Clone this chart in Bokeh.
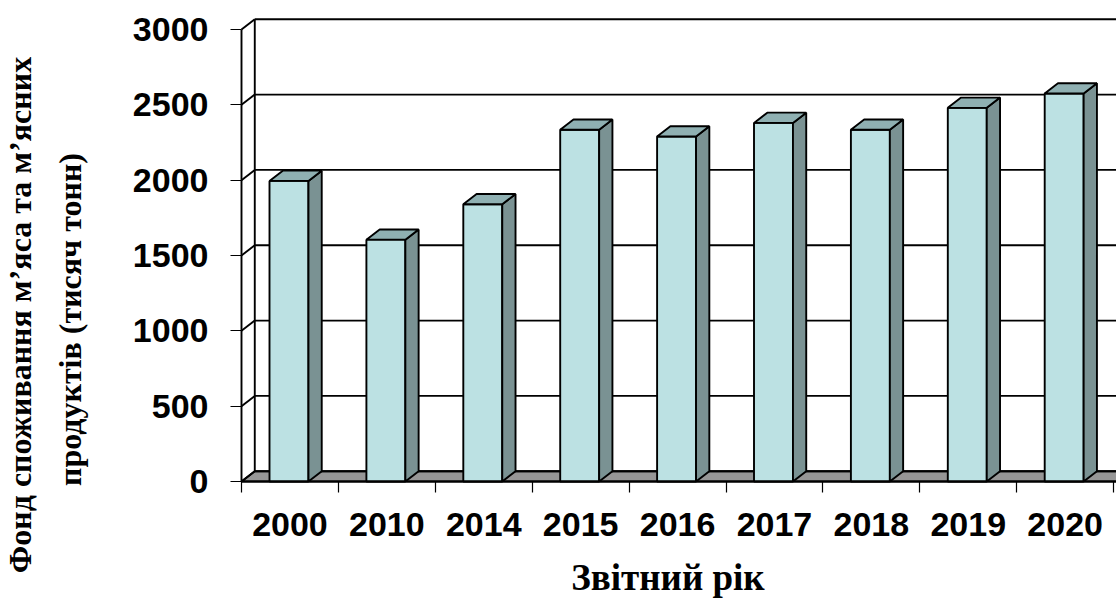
import numpy as np
from bokeh.plotting import figure
from bokeh.models import Range1d, FixedTicker, Label
from bokeh.embed import file_html
from bokeh.resources import INLINE

# ---- data -------------------------------------------------------------
years = ["2000", "2010", "2014", "2015", "2016", "2017", "2018", "2019", "2020"]
values = [1995, 1605, 1840, 2335, 2290, 2380, 2335, 2480, 2575]
y_ticks = [0, 500, 1000, 1500, 2000, 2500, 3000]
y_title_lines = ["Фонд споживання м’яса та м’ясних", "продуктів (тисяч тонн)"]
x_title = "Звітний рік"

# ---- style ------------------------------------------------------------
W, H = 1116, 600
PX_X = 96.9         # pixels per category
PX_Y = 0.15067      # pixels per value unit
ORIGIN = (241, 481)  # pixel position of (0, 0), from the top-left corner
DX = 0.137          # depth of the 3-D box along x (category units)
DY = 68             # depth of the 3-D box along y (value units)
BAR_L, BAR_R = 0.289, 0.691
FRONT = "#bce1e3"
SIDE = "#7a9293"
TOP = "#8fb0b2"
FLOOR = "#969696"
LW = 1.9
SANS = "Liberation Sans"
SERIF = "Liberation Serif"

x0 = -ORIGIN[0] / PX_X
x1 = (W - ORIGIN[0]) / PX_X
y0 = -(H - ORIGIN[1]) / PX_Y
y1 = ORIGIN[1] / PX_Y

# the plotting frame covers the whole canvas; axes sit at fixed locations
p = figure(width=W, height=H,
           x_range=Range1d(x0, x1), y_range=Range1d(y0, y1),
           min_border=0, output_backend="svg", toolbar_location=None)
p.outline_line_color = None
p.xgrid.visible = False
p.ygrid.visible = False
p.background_fill_color = "white"
p.border_fill_color = "white"

X_END = x1
top_tick = y_ticks[-1]

# floor of the box
p.patch([0, X_END, X_END + DX, DX], [0, 0, DY, DY],
        fill_color=FLOOR, line_color="black", line_width=LW)

# back-wall gridlines, side-wall diagonals and back-wall edge
grid_y = [v + DY for v in y_ticks]
p.segment(x0=[DX] * len(y_ticks), y0=grid_y,
          x1=[X_END + DX] * len(y_ticks), y1=grid_y,
          line_color="black", line_width=LW)
p.segment(x0=[0] * len(y_ticks), y0=y_ticks,
          x1=[DX] * len(y_ticks), y1=grid_y,
          line_color="black", line_width=LW)
p.segment(x0=[DX], y0=[DY], x1=[DX], y1=[top_tick + DY],
          line_color="black", line_width=LW)

# bars: front face, side face, top face
idx = np.arange(len(years))
p.quad(left=idx + BAR_L, right=idx + BAR_R, bottom=0, top=values,
       fill_color=FRONT, line_color="black", line_width=LW)
side_xs = [[i + BAR_R, i + BAR_R + DX, i + BAR_R + DX, i + BAR_R] for i in idx]
side_ys = [[0, DY, v + DY, v] for v in values]
p.patches(side_xs, side_ys, fill_color=SIDE, line_color="black", line_width=LW)
top_xs = [[i + BAR_L, i + BAR_R, i + BAR_R + DX, i + BAR_L + DX] for i in idx]
top_ys = [[v, v, v + DY, v + DY] for v in values]
p.patches(top_xs, top_ys, fill_color=TOP, line_color="black", line_width=LW)

# x axis: labels at category centres, tick marks at category borders
xa = p.xaxis[0]
xa.fixed_location = 0
xa.ticker = FixedTicker(ticks=[i + 0.5 for i in idx],
                        minor_ticks=list(range(len(years) + 1)))
xa.major_label_overrides = {float(i + 0.5): y for i, y in zip(idx, years)}
xa.bounds = (0, X_END)
xa.axis_line_width = LW
xa.axis_line_color = "black"
xa.major_tick_out = 0
xa.major_tick_in = 0
xa.minor_tick_out = 11
xa.minor_tick_in = 0
xa.minor_tick_line_color = "black"
xa.minor_tick_line_width = 1.2
xa.major_label_standoff = 20
xa.major_label_text_font = SANS
xa.major_label_text_font_style = "bold"
xa.major_label_text_font_size = "34px"
xa.major_label_text_color = "black"

# y axis on the front edge of the box
ya = p.yaxis[0]
ya.fixed_location = 0
ya.ticker = FixedTicker(ticks=y_ticks)
ya.bounds = (0, top_tick)
ya.axis_line_width = LW
ya.axis_line_color = "black"
ya.major_tick_out = 11
ya.major_tick_in = 0
ya.major_tick_line_width = 1.2
ya.major_tick_line_color = "black"
ya.minor_tick_out = 0
ya.minor_tick_in = 0
ya.major_label_standoff = 22
ya.major_label_text_font = SANS
ya.major_label_text_font_style = "bold"
ya.major_label_text_font_size = "34px"
ya.major_label_text_color = "black"

# axis titles
for (xpos, ypos), line in zip([(-2.291, 1105), (-1.775, 1075)], y_title_lines):
    p.add_layout(Label(x=xpos, y=ypos, text=line, angle=np.pi / 2,
                       text_align="center", text_baseline="alphabetic",
                       text_font=SERIF, text_font_style="bold",
                       text_font_size="32px", text_color="black"))
p.add_layout(Label(x=4.401, y=-640, text=x_title,
                   text_align="center", text_baseline="alphabetic",
                   text_font=SERIF, text_font_style="bold",
                   text_font_size="37px", text_color="black"))

open("out.html", "w").write(file_html(p, INLINE))
